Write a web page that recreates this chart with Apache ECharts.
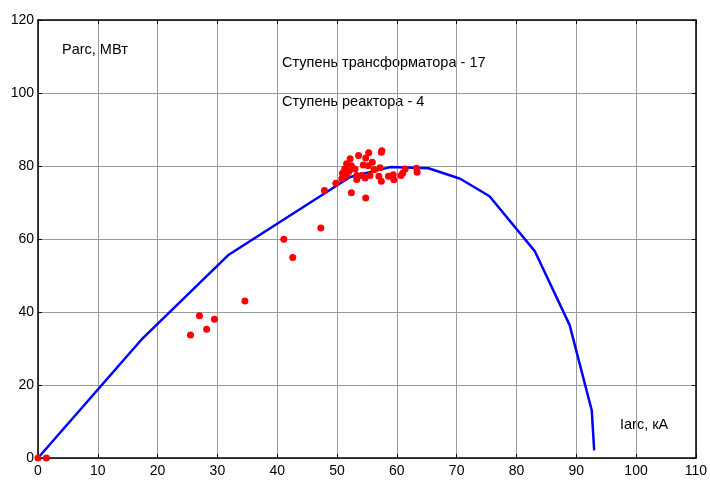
<!DOCTYPE html>
<html>
<head>
<meta charset="utf-8">
<script src="https://cdn.jsdelivr.net/npm/echarts@6/dist/echarts.min.js"></script>
<style>
  html, body { margin: 0; padding: 0; background: #fff; }
  #chart { width: 710px; height: 480px; }
</style>
</head>
<body>
<div id="chart"></div>
<script>
// Arc power characteristic (model curve) and measured operating points
const curveI = [0, 17.5, 31.9, 52.2, 58.9, 65.3, 70.6, 75.5, 83.1, 88.9, 92.6, 93.0];
const curveP = [0, 32.8, 55.7, 77.0, 79.7, 79.4, 76.5, 71.7, 56.6, 36.4, 13.0, 2.1];

const measI = [0, 1.4, 25.5, 27.0, 28.2, 29.5, 34.6, 41.1, 42.6, 47.3,
  47.9, 49.8, 50.8, 52.4, 54.8, 52.2, 53.6, 55.3, 57.5, 57.4,
  54.8, 55.9, 51.6, 52.4, 51.3, 53.0, 54.4, 55.2, 51.6, 53.3,
  54.1, 55.5, 57.2, 53.3, 54.7, 57.0, 57.4, 58.6, 59.4, 59.5,
  60.7, 61.0, 61.4, 63.3, 63.4, 52.0, 50.9, 56.2];
const measP = [0, 0, 33.7, 39.0, 35.3, 38.0, 43.0, 59.9, 54.9, 63.0,
  73.3, 75.3, 76.5, 72.7, 71.2, 82.0, 82.9, 83.6, 84.2, 83.8,
  82.2, 81.0, 80.6, 80.1, 79.2, 79.2, 80.3, 80.1, 77.4, 77.4,
  77.4, 77.4, 79.5, 76.3, 76.7, 77.2, 75.8, 77.2, 77.6, 76.2,
  77.4, 78.1, 79.2, 79.4, 78.3, 78.5, 78.0, 79.0];

const xTicks = { min: 0, max: 110, step: 10 };
const yTicks = { min: 0, max: 120, step: 20 };

const annotations = ['Parc, МВт', 'Ступень трансформатора - 17', 'Ступень реактора - 4', 'Iarc, кА'];

const chart = echarts.init(document.getElementById('chart'), null, { renderer: 'canvas' });

const font = 'Arial, "Liberation Sans", sans-serif';
const textFont = '14.5px ' + font;
const baseAxis = {
  axisLine: { show: true, onZero: false, lineStyle: { color: '#000', width: 1.5 } },
  axisTick: { show: true, inside: true, length: 4, lineStyle: { color: '#000' } },
  splitLine: { show: false }
};

chart.setOption({
  animation: false,
  backgroundColor: '#fff',
  grid: { left: 38, right: 13, top: 20, bottom: 22, containLabel: false },
  xAxis: [
    Object.assign({}, baseAxis, {
      type: 'value', position: 'bottom',
      min: xTicks.min, max: xTicks.max, interval: xTicks.step,
      axisLabel: { color: '#000', fontSize: 14, fontFamily: font, margin: 6 },
      splitLine: { show: true, lineStyle: { color: '#9a9a9a', width: 1 } }
    }),
    Object.assign({}, baseAxis, {
      type: 'value', position: 'top',
      min: xTicks.min, max: xTicks.max, interval: xTicks.step,
      axisLabel: { show: false }
    })
  ],
  yAxis: [
    Object.assign({}, baseAxis, {
      type: 'value', position: 'left',
      min: yTicks.min, max: yTicks.max, interval: yTicks.step,
      axisLabel: { color: '#000', fontSize: 14, fontFamily: font, margin: 4 },
      splitLine: { show: true, lineStyle: { color: '#9a9a9a', width: 1 } }
    }),
    Object.assign({}, baseAxis, {
      type: 'value', position: 'right',
      min: yTicks.min, max: yTicks.max, interval: yTicks.step,
      axisLabel: { show: false }
    })
  ],
  series: [
    {
      type: 'line',
      data: curveI.map((v, i) => [v, curveP[i]]),
      showSymbol: false,
      lineStyle: { color: '#0000ff', width: 2.5 },
      z: 2
    },
    {
      type: 'scatter',
      data: measI.map((v, i) => [v, measP[i]]),
      symbol: 'circle',
      symbolSize: 7,
      itemStyle: { color: '#ff0000', opacity: 1 },
      z: 3
    }
  ],
  graphic: [
    { type: 'text', left: 62, top: 42, style: { text: annotations[0], fill: '#000', font: textFont } },
    { type: 'text', left: 282, top: 55, style: { text: annotations[1], fill: '#000', font: textFont } },
    { type: 'text', left: 282, top: 94, style: { text: annotations[2], fill: '#000', font: textFont } },
    { type: 'text', left: 620, top: 417, style: { text: annotations[3], fill: '#000', font: textFont } }
  ]
});
</script>
</body>
</html>
